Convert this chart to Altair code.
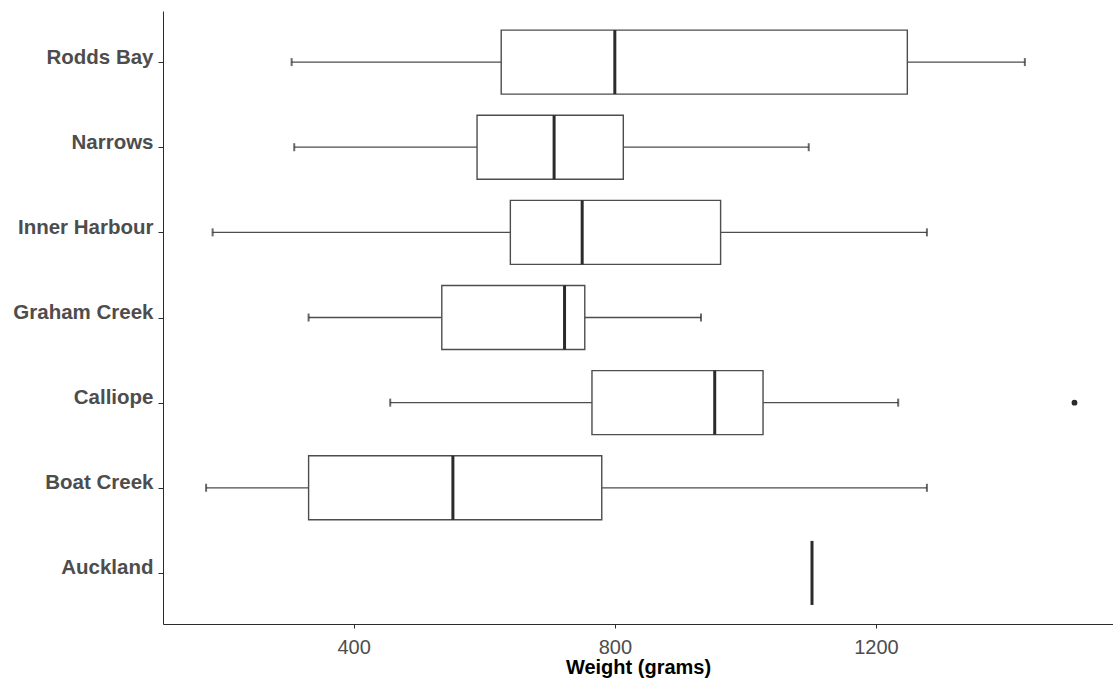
import altair as alt
import pandas as pd

sites = ["Rodds Bay", "Narrows", "Inner Harbour", "Graham Creek", "Calliope", "Boat Creek", "Auckland"]
lower = [305, 309, 184, 331, 456, 174, 1102]
q1 = [626, 589, 640, 535, 765, 331, 1102]
median = [800, 707, 750, 723, 953, 552, 1102]
q3 = [1248, 813, 962, 754, 1027, 780, 1102]
upper = [1428, 1097, 1278, 932, 1234, 1278, 1102]
outlier_sites = ["Calliope"]
outlier_values = [1504]

x_ticks = [400, 800, 1200]
x_domain = [108, 1563]

df = pd.DataFrame({"site": sites, "lower": lower, "q1": q1, "median": median, "q3": q3, "upper": upper})
out_df = pd.DataFrame({"site": outlier_sites, "value": outlier_values})

FONT = "Liberation Sans"
LINE = "#4d4d4d"
DARK = "#2b2b2b"

y_enc = alt.Y(
    "site:N",
    sort=sites,
    scale=alt.Scale(type="point", padding=0.6),
    axis=alt.Axis(
        title=None,
        labelFont=FONT,
        labelFontSize=20.5,
        labelFontWeight="bold",
        labelColor="#4d4d4d",
        labelBaseline="alphabetic",
        labelOffset=1,
        labelPadding=5,
        tickSize=5,
        tickColor=DARK,
        domainColor=DARK,
        grid=False,
    ),
)

x_scale = alt.Scale(domain=x_domain, nice=False, zero=False)
x_axis = alt.Axis(
    values=x_ticks,
    format="d",
    title="Weight (grams)",
    titleFont=FONT,
    titleFontSize=20,
    titleFontWeight="bold",
    titleColor="black",
    titlePadding=0,
    labelFont=FONT,
    labelFontSize=20,
    labelColor="#4d4d4d",
    labelPadding=9,
    tickSize=4,
    tickColor=DARK,
    domainColor=DARK,
    grid=False,
)

base = alt.Chart(df)

whisk_low = base.mark_rule(color=LINE, strokeWidth=1.3).encode(
    x=alt.X("lower:Q", scale=x_scale, axis=x_axis), x2="q1:Q", y=y_enc
)
whisk_high = base.mark_rule(color=LINE, strokeWidth=1.3).encode(
    x=alt.X("q3:Q", scale=x_scale), x2="upper:Q", y=alt.Y("site:N", sort=sites)
)
cap_low = base.mark_tick(color=DARK, size=8, thickness=2).encode(
    x=alt.X("lower:Q", scale=x_scale), y=alt.Y("site:N", sort=sites)
)
cap_high = base.mark_tick(color=DARK, size=8, thickness=2).encode(
    x=alt.X("upper:Q", scale=x_scale), y=alt.Y("site:N", sort=sites)
)
box = base.mark_bar(size=64, fill="white", stroke=LINE, strokeWidth=1.4).encode(
    x=alt.X("q1:Q", scale=x_scale), x2="q3:Q", y=alt.Y("site:N", sort=sites)
)
med = base.mark_tick(color=DARK, size=64, thickness=3, opacity=1).encode(
    x=alt.X("median:Q", scale=x_scale), y=alt.Y("site:N", sort=sites)
)
outl = alt.Chart(out_df).mark_circle(color=DARK, size=34, opacity=1).encode(
    x=alt.X("value:Q", scale=x_scale), y=alt.Y("site:N", sort=sites)
)

chart = alt.layer(whisk_low, whisk_high, cap_low, cap_high, box, med, outl).properties(
    width=950,
    height=613,
    padding={"left": 163, "top": 11, "right": 0, "bottom": 54},
    autosize=alt.AutoSizeParams(type="none"),
    background="white",
).configure_view(stroke=None)

chart.save("out.html", embed_options={"renderer": "svg", "actions": False})
